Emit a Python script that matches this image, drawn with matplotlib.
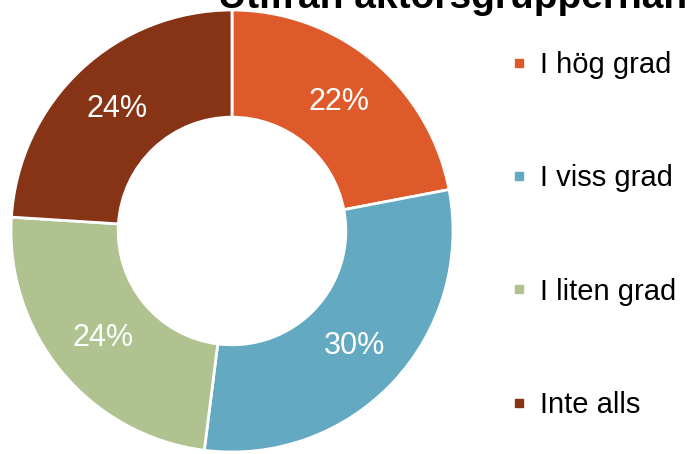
import matplotlib.pyplot as plt
from matplotlib.lines import Line2D

# Data
categories = ["I hög grad", "I viss grad", "I liten grad", "Inte alls"]
shares = [22, 30, 24, 24]
colors = ["#DE5A2A", "#63A9C1", "#B0C28F", "#863316"]
title = "Utifrån aktörsgruppernan"

plt.rcParams['font.family'] = ['Liberation Sans', 'DejaVu Sans']

fig = plt.figure(figsize=(6.89, 4.54), dpi=100)
W, H = 689, 454

# donut centre ~ (232, 231) px from top, radius ~221 px
cx, cy, r = 232, 231, 221
ax = fig.add_axes([(cx - r) / W, (H - cy - r) / H, 2 * r / W, 2 * r / H])

wedges, texts, autotexts = ax.pie(
    shares, colors=colors, startangle=90, counterclock=False,
    autopct='%d%%', pctdistance=0.76,
    wedgeprops=dict(width=0.485, edgecolor='white', linewidth=2),
    textprops=dict(color='white', fontsize=22),
    radius=1.0,
)
ax.set_xlim(-1, 1)
ax.set_ylim(-1, 1)
ax.set_aspect('equal')
ax.axis('off')

# title, mostly clipped at the top edge
fig.text(218 / W, (H - 8) / H, title, fontsize=28, fontweight='bold',
         ha='left', va='baseline', color='black')

# legend
handles = [Line2D([], [], marker='s', linestyle='none', markersize=5.5,
                  markerfacecolor=c, markeredgecolor=c) for c in colors]
fig.legend(handles, categories, loc='center left',
           bbox_to_anchor=(512 / W, 1 - 235 / H), frameon=False,
           fontsize=21, labelspacing=2.92, handlelength=0.5,
           handletextpad=0.45, borderpad=0, borderaxespad=0)

fig.savefig('out.png', dpi=100)
